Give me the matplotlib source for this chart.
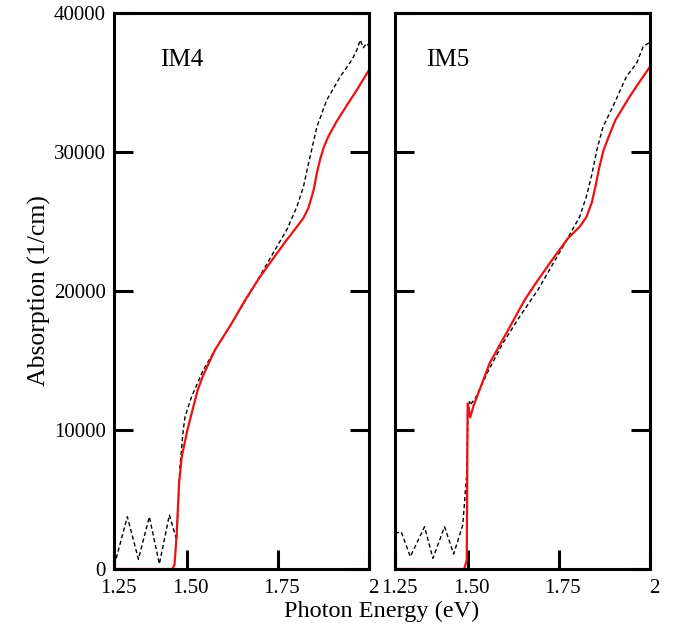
import matplotlib
matplotlib.use('Agg')
import matplotlib.pyplot as plt
import matplotlib.transforms as mtransforms

plt.rcParams['font.family'] = ['Liberation Serif', 'DejaVu Serif']

# IM4 measured (dashed) and calculated (red)
im4_exp_e = [1.300, 1.3027, 1.3366, 1.367, 1.397, 1.4245, 1.452, 1.472, 1.481, 1.490, 1.495, 1.513,
             1.545, 1.577, 1.623, 1.678, 1.701, 1.747, 1.774, 1.802, 1.820, 1.834, 1.857, 1.884,
             1.921, 1.953, 1.966, 1.976, 1.984, 1.994, 2.000]
im4_exp_a = [300, 430, 3760, 700, 3760, 360, 3885, 2090, 7360, 10000, 10960, 12400,
             14320, 15755, 17675, 20070, 21100, 23190, 24390, 26060, 27500, 29180, 31820, 33740,
             35420, 36620, 37300, 38060, 37500, 37820, 37600]
im4_calc_e = [1.300, 1.460, 1.466, 1.472, 1.4786, 1.486, 1.501, 1.518, 1.530, 1.545, 1.577, 1.623,
              1.660, 1.701, 1.740, 1.774, 1.800, 1.820, 1.834, 1.848, 1.857, 1.866, 1.876, 1.888,
              1.910, 1.939, 1.965, 2.000]
im4_calc_a = [0, 0, 300, 2500, 6190, 8080, 9950, 11700, 12900, 13950, 15755, 17675,
              19350, 21030, 22450, 23670, 24550, 25250, 26000, 27265, 28500, 29500, 30350, 31100,
              32150, 33350, 34400, 35900]

# IM5 measured (dashed) and calculated (red)
im5_exp_e = [1.300, 1.317, 1.342, 1.381, 1.404, 1.436, 1.461, 1.486, 1.497, 1.500, 1.5047, 1.5066,
             1.523, 1.555, 1.596, 1.642, 1.692, 1.729, 1.761, 1.784, 1.807, 1.825, 1.839, 1.854,
             1.871, 1.898, 1.935, 1.963, 1.981, 1.995, 2.000]
im5_exp_a = [2570, 2680, 890, 3040, 770, 3040, 1080, 3165, 6880, 10960, 12040, 11800,
             12400, 14200, 16240, 18150, 20070, 21750, 23190, 24270, 25350, 26780, 28220, 30140,
             31820, 33260, 35420, 36380, 37580, 37820, 37900]
im5_calc_e = [1.300, 1.490, 1.497, 1.499, 1.4995, 1.5066, 1.515, 1.532, 1.5596, 1.6055, 1.6557, 1.690,
              1.7245, 1.7747, 1.807, 1.825, 1.840, 1.850, 1.860, 1.872, 1.885, 1.905, 1.944, 1.970,
              2.000]
im5_calc_a = [0, 0, 650, 10960, 11920, 10910, 11700, 12880, 14800, 16960, 19350, 20700,
              21990, 23790, 24625, 25300, 26350, 27500, 28800, 30100, 31000, 32300, 33980, 35000,
              36140]

panels = [('IM4', im4_exp_e, im4_exp_a, im4_calc_e, im4_calc_a, 0.18),
          ('IM5', im5_exp_e, im5_exp_a, im5_calc_e, im5_calc_a, 0.12)]

xtick_pos = [1.30, 1.50, 1.75, 2.00]
xtick_lab = ['1.25', '1.50', '1.75', '2']
ytick_pos = [0, 10000, 20000, 30000, 40000]

fig = plt.figure(figsize=(6.75, 6.3), dpi=100)
lefts = [0.1689, 0.5852]
axes = []
shift = mtransforms.ScaledTranslation(4 / 100, 0, fig.dpi_scale_trans)
for i, (name, ee, ea, ce, ca, tx) in enumerate(panels):
    ax = fig.add_axes([lefts[i], 0.0968, 0.3778, 0.8826])
    ax.plot(ee, ea, color='black', linewidth=1.0, linestyle=(0, (3, 2)))
    ax.plot(ce, ca, color='#ee1111', linewidth=1.6)
    ax.set_xlim(1.30, 2.0)
    ax.set_ylim(0, 40000)
    ax.set_xticks(xtick_pos)
    ax.set_xticklabels(xtick_lab)
    ax.set_yticks(ytick_pos)
    ax.tick_params(axis='both', direction='in', length=14, width=2.2, labelsize=15,
                   right=True, top=False, pad=6)
    ax.tick_params(axis='x', pad=7)
    for lab in ax.get_xticklabels():
        lab.set_transform(lab.get_transform() + shift)
    if i == 1:
        ax.tick_params(labelleft=False)
    for s in ax.spines.values():
        s.set_linewidth(2.2)
    ax.text(tx, 0.915, name, transform=ax.transAxes, fontsize=18, va='center', ha='left')
    axes.append(ax)

axes[0].set_ylabel('Absorption (1/cm)', fontsize=18.5, labelpad=2)
fig.text(0.566, 0.029, 'Photon Energy (eV)', fontsize=17.5, ha='center', va='center')

plt.savefig('out.png', dpi=100)
